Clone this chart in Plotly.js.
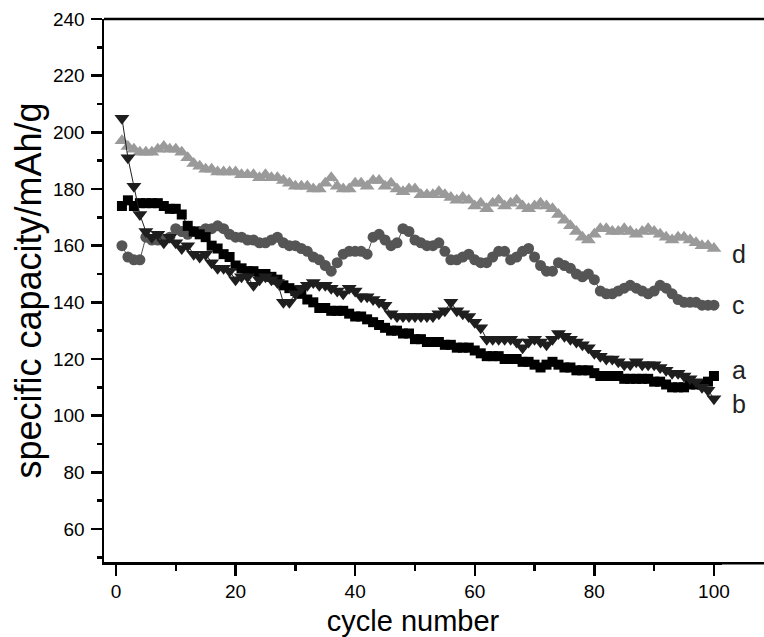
<!DOCTYPE html>
<html>
<head>
<meta charset="utf-8">
<script src="https://cdn.plot.ly/plotly-3.0.1.min.js"></script>
<style>html,body{margin:0;padding:0;background:#fff;}</style>
</head>
<body>
<div id="chart" style="width:764px;height:637px;"></div>
<script>
const cycles = [];
for (let i = 1; i <= 100; i++) cycles.push(i);

const seriesA = [174,176,174,175,175,175,175,174,173,173,171,167,165,164,163,160,159,157,156,153,
152,151,151,150,150,149,148,146,145,144,143,141,140,138,138,137,137,137,136,135,
135,134,133,132,131,130,130,129,129,127,127,126,126,126,125,125,124,124,124,123,
122,121,121,121,120,120,120,119,119,118,117,118,119,118,117,117,116,116,116,115,
114,114,114,114,113,113,113,113,113,112,112,111,110,110,110,111,111,111,112,114];

const seriesB = [205,191,181,171,165,163,164,161,163,161,159,160,157,156,157,154,152,152,151,148,
149,149,146,148,149,148,147,140,140,143,145,146,147,146,146,145,144,143,145,144,
142,142,141,140,139,136,135,135,135,135,135,135,135,136,137,140,137,136,135,133,
131,127,127,127,127,127,126,124,126,127,126,125,127,129,128,127,126,125,124,122,
121,120,120,119,118,118,119,118,118,118,117,116,115,115,114,113,112,110,109,106];

const seriesC = [160,156,155,155,163,162,162,162,163,166,165,164,165,165,166,166,167,166,164,163,
163,162,162,161,161,162,163,161,160,160,159,158,156,155,153,151,154,157,158,158,
158,157,163,164,162,160,161,166,165,162,161,160,160,161,158,155,155,156,157,155,
154,154,156,158,158,155,156,158,159,156,153,151,151,154,153,152,150,149,150,148,
144,143,143,144,145,146,145,144,143,144,146,145,143,141,140,140,140,139,139,139];

const seriesD = [197,195,194,193,193,193,194,195,194,194,193,191,189,188,187,187,186,186,186,186,
185,185,185,184,185,184,184,183,182,181,181,181,180,180,182,184,181,180,180,182,
182,181,183,183,181,182,180,179,180,180,178,178,178,179,178,177,176,177,176,174,
175,173,175,176,174,175,176,174,173,174,175,174,173,171,169,167,165,163,162,164,
166,166,165,165,166,165,164,165,166,165,164,163,162,163,163,162,161,160,160,159];

const labelNames = ['a','b','c','d'];
const labelY = [116,104,139,157];

const yTicks = [60,80,100,120,140,160,180,200,220,240];
const xTicks = [0,20,40,60,80,100];

const traces = [
  {x: cycles, y: seriesD, name: 'd', mode: 'lines+markers', line: {color: '#9a9a9a', width: 1},
   marker: {symbol: 'triangle-up', size: 13, color: '#9a9a9a'}},
  {x: cycles, y: seriesC, name: 'c', mode: 'lines+markers', line: {color: '#555555', width: 1},
   marker: {symbol: 'circle', size: 11, color: '#555555'}},
  {x: cycles, y: seriesA, name: 'a', mode: 'lines+markers', line: {color: '#000000', width: 1},
   marker: {symbol: 'square', size: 10, color: '#000000'}},
  {x: cycles, y: seriesB, name: 'b', mode: 'lines+markers', line: {color: '#1e1e1e', width: 1},
   marker: {symbol: 'triangle-down', size: 13, color: '#1e1e1e'}}
];

const annotations = labelNames.map((t, i) => ({
  x: 0.962, y: labelY[i], xref: 'paper', yref: 'y', text: t, showarrow: false,
  xanchor: 'center', yanchor: 'middle',
  font: {family: 'Liberation Sans, Arial, sans-serif', size: 25, color: '#222'}
}));

const dom = 0.9364;
const shapes = [
  {type: 'line', xref: 'paper', yref: 'paper', x0: dom - 0.01, x1: 1, y0: -0.0023, y1: -0.0023,
   line: {color: '#000', width: 2.5}, layer: 'above'},
  {type: 'line', xref: 'paper', yref: 'paper', x0: 0, x1: 1, y0: 1, y1: 1,
   line: {color: '#000', width: 2.5}, layer: 'above'}
];

const layout = {
  width: 764, height: 637,
  margin: {l: 104, r: 0, t: 19, b: 75},
  paper_bgcolor: '#fff', plot_bgcolor: '#fff',
  showlegend: false,
  font: {family: 'Liberation Sans, Arial, sans-serif', color: '#000'},
  xaxis: {
    domain: [0, dom],
    range: [-2, 101.35], tickvals: xTicks, ticks: 'outside', ticklen: 11, tickwidth: 2.5,
    tickcolor: '#000', showline: true, linewidth: 2.5, linecolor: '#000', mirror: false,
    showgrid: false, zeroline: false, ticklabelstandoff: 0,
    tickfont: {size: 19, color: '#000'},
    minor: {dtick: 10, tick0: 0, ticks: 'outside', ticklen: 6, tickwidth: 2.5, tickcolor: '#000', showgrid: false},
    title: {text: 'cycle number', font: {size: 29, color: '#000'}, standoff: 11}
  },
  yaxis: {
    range: [48.35, 240], tickvals: yTicks, ticks: 'outside', ticklen: 11, tickwidth: 2.5,
    tickcolor: '#000', showline: true, linewidth: 2.5, linecolor: '#000', mirror: false,
    showgrid: false, zeroline: false, ticklabelstandoff: 2,
    tickfont: {size: 19, color: '#000'},
    minor: {dtick: 10, tick0: 0, ticks: 'outside', ticklen: 5, tickwidth: 2.5, tickcolor: '#000', showgrid: false},
    title: {text: 'specific capacity/mAh/g', font: {size: 36, color: '#000'}, standoff: 1}
  },
  shapes: shapes,
  annotations: annotations
};

Plotly.newPlot('chart', traces, layout, {staticPlot: true, displayModeBar: false});
</script>
</body>
</html>
